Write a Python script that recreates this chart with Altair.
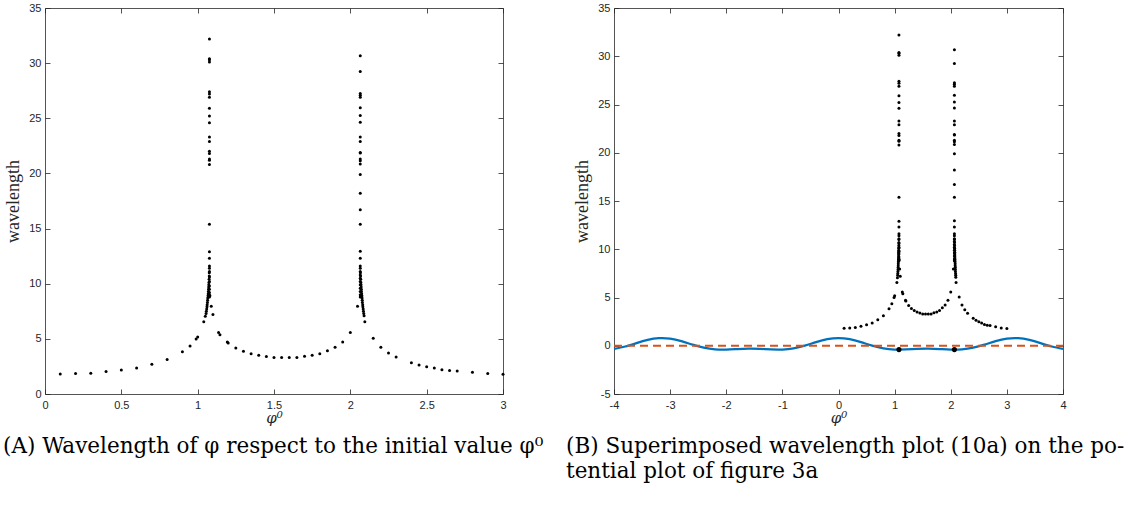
import altair as alt
import pandas as pd

# ---------------- data ----------------
# wavelength vs initial value phi0 (same data set in both panels)
WL_PHI = [
    0.1, 0.2, 0.3, 0.4, 0.5, 0.6, 0.7, 0.8, 0.9, 0.95, 0.99, 1.0, 1.04, 1.05,
    # left lean of first spike
    1.055, 1.057, 1.059, 1.061, 1.062, 1.064, 1.065, 1.066, 1.068, 1.069,
    1.070, 1.071, 1.072, 1.073, 1.074, 1.075, 1.076, 1.076,
    # first spike column
    1.077, 1.077, 1.077, 1.077, 1.077, 1.077, 1.077, 1.077, 1.077, 1.077,
    1.077, 1.077, 1.077, 1.077, 1.077, 1.077, 1.077, 1.077, 1.077, 1.077,
    1.077, 1.077, 1.077, 1.077, 1.077, 1.077, 1.077, 1.077, 1.077, 1.077,
    # valley between spikes
    1.08, 1.089, 1.10, 1.137, 1.146, 1.194, 1.2, 1.25, 1.3, 1.35, 1.4, 1.45,
    1.5, 1.55, 1.6, 1.65, 1.7, 1.75, 1.8, 1.85, 1.9, 1.95, 2.0, 2.047,
    # second spike column
    2.065, 2.065, 2.065, 2.065, 2.065, 2.065, 2.065, 2.065, 2.065, 2.065,
    2.065, 2.065, 2.065, 2.065, 2.065, 2.065, 2.065, 2.065, 2.065, 2.065,
    2.065, 2.065, 2.065, 2.065, 2.065, 2.065, 2.065, 2.065, 2.065, 2.065,
    2.065, 2.065,
    # right lean of second spike
    2.066, 2.067, 2.068, 2.069, 2.070, 2.071, 2.072, 2.073, 2.074, 2.076,
    2.077, 2.078, 2.079, 2.081, 2.082, 2.084, 2.086, 2.088, 2.09, 2.095,
    # right tail
    2.15, 2.2, 2.25, 2.3, 2.4, 2.45, 2.5, 2.55, 2.6, 2.65, 2.7, 2.8, 2.9, 3.0,
]
WL_VAL = [
    1.81, 1.85, 1.88, 2.03, 2.18, 2.36, 2.69, 3.12, 3.84, 4.36, 4.99, 5.17, 6.56, 7.05,
    7.3, 7.5, 7.7, 7.9, 8.1, 8.3, 8.5, 8.7, 8.9, 9.1,
    9.3, 9.5, 9.7, 9.9, 10.1, 10.4, 10.7, 11.0,
    8.8, 9.0, 9.2, 9.5, 9.8, 10.2, 10.6, 11.1, 11.4, 11.6,
    12.3, 12.9, 15.4, 20.8, 21.2, 21.3, 21.8, 22.0, 22.9, 23.3,
    24.6, 25.2, 25.9, 26.9, 27.2, 27.4, 30.1, 30.3, 30.4, 32.2,
    8.9, 7.95, 7.2, 5.57, 5.38, 4.72, 4.63, 4.17, 3.87, 3.66, 3.51, 3.39,
    3.30, 3.30, 3.30, 3.30, 3.42, 3.51, 3.66, 3.93, 4.23, 4.72, 5.57, 7.95,
    8.8, 9.0, 9.3, 9.6, 9.9, 10.2, 10.5, 10.8, 11.1, 11.4,
    11.6, 12.3, 12.95, 15.4, 16.7, 18.2, 19.9, 20.85, 21.15, 21.3,
    21.85, 21.9, 22.9, 23.3, 24.65, 25.25, 25.95, 26.9, 27.1, 27.25,
    29.25, 30.67,
    11.0, 10.7, 10.4, 10.1, 9.9, 9.7, 9.5, 9.3, 9.1, 8.9,
    8.7, 8.5, 8.3, 8.1, 7.9, 7.7, 7.5, 7.3, 7.1, 6.56,
    5.05, 4.23, 3.72, 3.36, 2.84, 2.63, 2.48, 2.36, 2.21, 2.12, 2.09, 1.97, 1.85, 1.78,
]

# potential curve (panel B)
POT_PHI = [-4.0, -3.8, -3.6, -3.4, -3.2, -3.0, -2.8, -2.6, -2.4, -2.2, -2.0,
           -1.8, -1.6, -1.4, -1.2, -1.0, -0.8, -0.6, -0.4, -0.2, 0.0,
           0.2, 0.4, 0.6, 0.8, 1.0, 1.2, 1.4, 1.6, 1.8, 2.0,
           2.2, 2.4, 2.6, 2.8, 3.0, 3.2, 3.4, 3.6, 3.8, 4.0]
POT_VAL = [-0.32, -0.083, 0.269, 0.606, 0.789, 0.739, 0.478, 0.118, -0.198, -0.372, -0.396,
           -0.342, -0.301, -0.324, -0.384, -0.392, -0.266, 0.015, 0.376, 0.681, 0.80,
           0.681, 0.376, 0.015, -0.266, -0.392, -0.384, -0.324, -0.301, -0.342, -0.396,
           -0.372, -0.198, 0.118, 0.478, 0.739, 0.789, 0.606, 0.269, -0.083, -0.32]

ZERO_PHI = [-4.0, 4.0]
ZERO_VAL = [0.0, 0.0]

MIN_PHI = [1.077, 2.065]
MIN_VAL = [-0.40, -0.40]

X1_TICKS = [0, 0.5, 1, 1.5, 2, 2.5, 3]
Y1_TICKS = [0, 5, 10, 15, 20, 25, 30, 35]
X2_TICKS = [-4, -3, -2, -1, 0, 1, 2, 3, 4]
Y2_TICKS = [-5, 0, 5, 10, 15, 20, 25, 30, 35]

CAPTION_A = "(A) Wavelength of φ respect to the initial value φ⁰"
CAPTION_B = ["(B) Superimposed wavelength plot (10a) on the po-",
             "tential plot of figure 3a"]

df_wl = pd.DataFrame({"phi": WL_PHI, "wl": WL_VAL})
df_pot = pd.DataFrame({"phi": POT_PHI, "v": POT_VAL})
df_zero = pd.DataFrame({"phi": ZERO_PHI, "v": ZERO_VAL})
df_min = pd.DataFrame({"phi": MIN_PHI, "v": MIN_VAL})

W1, W2, H = 458, 449, 386
AX_COL = "#262626"


def main_axis(values, orient, title, is_x):
    kw = dict(values=values, orient=orient, title=title, domain=False, grid=False,
              ticks=True, tickSize=5, tickColor=AX_COL, tickWidth=0.8, offset=-5,
              labelFont="Liberation Sans", labelFontSize=11, labelColor=AX_COL,
              labelFlush=False, labelOverlap=False, labelExpr="datum.value + ''",
              titleColor=AX_COL, titleFontWeight="normal")
    if is_x:
        kw.update(labelPadding=5, titleFont="DejaVu Serif", titleFontStyle="italic",
                  titleFontSize=15, titlePadding=0)
    else:
        kw.update(labelPadding=4, titleFont="Liberation Serif", titleFontSize=18,
                  titlePadding=6)
    return alt.Axis(**kw)


def frame_axis(values, orient):
    return alt.Axis(values=values, orient=orient, title="", labels=False, domain=False,
                    grid=False, ticks=True, tickSize=5, tickColor=AX_COL, tickWidth=0.8,
                    offset=-5)


def caption(text, dx):
    return alt.TitleParams(text=text, orient="bottom", anchor="start", frame="group",
                           dx=dx, offset=11, font="DejaVu Serif", fontSize=21.5,
                           fontWeight="normal", color="black", lineHeight=25)


# ---------------- panel A ----------------
xs1 = alt.Scale(domain=[0, 3], nice=False, zero=False)
ys1 = alt.Scale(domain=[0, 35], nice=False, zero=False)

a_pts = alt.Chart(df_wl).mark_circle(size=9, color="black", opacity=1).encode(
    x=alt.X("phi:Q", scale=xs1, axis=main_axis(X1_TICKS, "bottom", "φ⁰", True)),
    y=alt.Y("wl:Q", scale=ys1, axis=main_axis(Y1_TICKS, "left", "wavelength", False)),
)
a_frame = alt.Chart(df_wl).mark_circle(opacity=0).encode(
    x=alt.X("phi:Q", scale=xs1, axis=frame_axis(X1_TICKS, "top")),
    y=alt.Y("wl:Q", scale=ys1, axis=frame_axis(Y1_TICKS, "right")),
)
panel_a = alt.layer(a_pts, a_frame).resolve_axis(x="independent", y="independent").properties(
    width=W1, height=H, title=caption(CAPTION_A, -42))

# ---------------- panel B ----------------
xs2 = alt.Scale(domain=[-4, 4], nice=False, zero=False)
ys2 = alt.Scale(domain=[-5, 35], nice=False, zero=False)

b_pot = alt.Chart(df_pot).mark_line(color="#0072BD", strokeWidth=2.2, interpolate="natural").encode(
    x=alt.X("phi:Q", scale=xs2, axis=None),
    y=alt.Y("v:Q", scale=ys2, axis=None),
)
b_zero = alt.Chart(df_zero).mark_line(color="#D95319", strokeWidth=2.2, strokeDash=[8, 5]).encode(
    x=alt.X("phi:Q", scale=xs2, axis=None),
    y=alt.Y("v:Q", scale=ys2, axis=None),
)
b_pts = alt.Chart(df_wl).mark_circle(size=9, color="black", opacity=1).encode(
    x=alt.X("phi:Q", scale=xs2, axis=main_axis(X2_TICKS, "bottom", "φ⁰", True)),
    y=alt.Y("wl:Q", scale=ys2, axis=main_axis(Y2_TICKS, "left", "wavelength", False)),
)
b_min = alt.Chart(df_min).mark_circle(size=26, color="black", opacity=1).encode(
    x=alt.X("phi:Q", scale=xs2, axis=None),
    y=alt.Y("v:Q", scale=ys2, axis=None),
)
b_frame = alt.Chart(df_wl).mark_circle(opacity=0).encode(
    x=alt.X("phi:Q", scale=xs2, axis=frame_axis(X2_TICKS, "top")),
    y=alt.Y("wl:Q", scale=ys2, axis=frame_axis(Y2_TICKS, "right")),
)
panel_b = alt.layer(b_pot, b_zero, b_pts, b_min, b_frame).resolve_axis(
    x="independent", y="independent").properties(
    width=W2, height=H, title=caption(CAPTION_B, -48))

chart = alt.hconcat(panel_a, panel_b, spacing=111, bounds="flush").properties(
    padding={"left": 2, "top": 1, "right": 0, "bottom": 0},
    autosize=alt.AutoSizeParams(type="pad"),
    background="white",
).configure_view(stroke="#555555", strokeWidth=1)

chart.save("out.html", embed_options={"renderer": "svg", "actions": False})
